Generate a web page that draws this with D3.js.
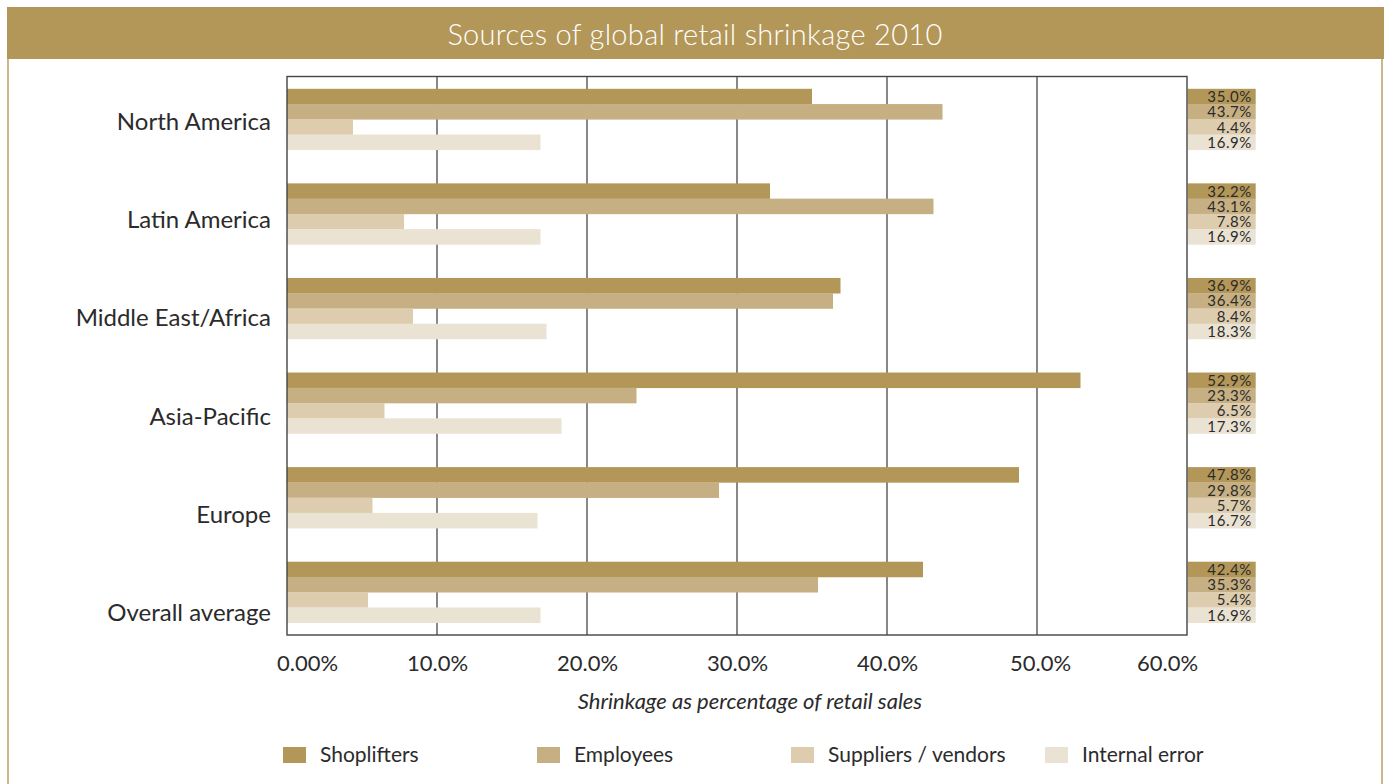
<!DOCTYPE html>
<html>
<head>
<meta charset="utf-8">
<script src="https://cdn.jsdelivr.net/npm/d3@7"></script>
<style>
  body { margin: 0; background: #fff; }
  svg { display: block; font-family: Lato, "Noto Sans", sans-serif; }
</style>
</head>
<body>
<svg id="chart" width="1384" height="784"></svg>
<script>
// data
const categories = ["North America", "Latin America", "Middle East/Africa", "Asia-Pacific", "Europe", "Overall average"];
const seriesNames = ["Shoplifters", "Employees", "Suppliers / vendors", "Internal error"];

// bar lengths as drawn
const shoplifters = [35.0, 32.2, 36.9, 52.9, 48.8, 42.4];
const employees = [43.7, 43.1, 36.4, 23.3, 28.8, 35.4];
const suppliers = [4.4, 7.8, 8.4, 6.5, 5.7, 5.4];
const internalError = [16.9, 16.9, 17.3, 18.3, 16.7, 16.9];

// printed values in the table on the right
const shopliftersLabels = ["35.0%", "32.2%", "36.9%", "52.9%", "47.8%", "42.4%"];
const employeesLabels = ["43.7%", "43.1%", "36.4%", "23.3%", "29.8%", "35.3%"];
const suppliersLabels = ["4.4%", "7.8%", "8.4%", "6.5%", "5.7%", "5.4%"];
const internalLabels = ["16.9%", "16.9%", "18.3%", "17.3%", "16.7%", "16.9%"];

const xTicks = [0, 10, 20, 30, 40, 50, 60];
const xTickLabels = ["0.00%", "10.0%", "20.0%", "30.0%", "40.0%", "50.0%", "60.0%"];

const colors = ["#b39758", "#c6af82", "#ddcdae", "#eae3d3"];

const svg = d3.select("#chart");

// frame + title band
svg.append("line").attr("x1", 8).attr("x2", 8).attr("y1", 58).attr("y2", 784)
    .attr("stroke", "#c9b88c").attr("stroke-width", 2);
svg.append("line").attr("x1", 1382).attr("x2", 1382).attr("y1", 58).attr("y2", 784)
    .attr("stroke", "#c9b88c").attr("stroke-width", 2);
svg.append("rect").attr("x", 7).attr("y", 7).attr("width", 1377).attr("height", 52)
    .attr("fill", "#b39758");
svg.append("text").attr("x", 695).attr("y", 45).attr("text-anchor", "middle")
    .attr("fill", "#fff").attr("font-size", 29).attr("font-weight", 300)
    .attr("letter-spacing", 0.3)
    .text("Sources of global retail shrinkage 2010");

// scales
const x = d3.scaleLinear().domain([0, 60]).range([287, 1187]);
const y = d3.scaleBand().domain(categories).range([76.5, 635])
    .paddingInner(0.355).paddingOuter(0.13);
const ySub = d3.scaleBand().domain(seriesNames).range([0, y.bandwidth()]);
// category labels sit on their own, slightly wider spacing
const yLabel = d3.scalePoint().domain(categories).range([122, 613]);

// grid lines
svg.append("g").selectAll("line")
    .data(xTicks.slice(1, -1))
    .join("line")
    .attr("x1", d => x(d)).attr("x2", d => x(d))
    .attr("y1", 76.5).attr("y2", 635)
    .attr("stroke", "#555").attr("stroke-width", 1.4);

// bars
const seriesValues = [shoplifters, employees, suppliers, internalError];
const seriesLabels = [shopliftersLabels, employeesLabels, suppliersLabels, internalLabels];

const groups = svg.append("g").selectAll("g")
    .data(categories)
    .join("g")
    .attr("transform", d => `translate(0,${y(d)})`);

groups.selectAll("rect")
    .data((c, i) => seriesNames.map((s, j) => ({ s, j, v: seriesValues[j][i] })))
    .join("rect")
    .attr("x", x(0))
    .attr("y", d => ySub(d.s))
    .attr("width", d => x(d.v) - x(0))
    .attr("height", ySub.bandwidth() + 0.3)
    .attr("fill", d => colors[d.j]);

// frame of plot area
svg.append("rect").attr("x", 287).attr("y", 76.5).attr("width", 900).attr("height", 558.5)
    .attr("fill", "none").attr("stroke", "#444").attr("stroke-width", 1.4);

// value table on the right
const cells = groups.selectAll("g.cell")
    .data((c, i) => seriesNames.map((s, j) => ({ s, j, label: seriesLabels[j][i] })))
    .join("g")
    .attr("class", "cell")
    .attr("transform", d => `translate(${x(60)},${ySub(d.s)})`);

cells.append("rect")
    .attr("x", 0.7).attr("width", 68).attr("height", ySub.bandwidth() + 0.3)
    .attr("fill", d => colors[d.j]);

cells.append("text")
    .attr("x", 65).attr("y", ySub.bandwidth() - 2)
    .attr("text-anchor", "end")
    .attr("font-size", 15).attr("fill", "#2b2b2b")
    .attr("letter-spacing", 0.6)
    .text(d => d.label);

// category labels
svg.append("g").selectAll("text")
    .data(categories)
    .join("text")
    .attr("x", 271)
    .attr("y", d => yLabel(d) + 8)
    .attr("text-anchor", "end")
    .attr("font-size", 24).attr("fill", "#2b2b2b")
    .text(d => d);

// x axis labels
const xAxis = d3.axisBottom(x)
    .tickValues(xTicks)
    .tickSize(0)
    .tickFormat((d, i) => xTickLabels[i]);

const axisG = svg.append("g")
    .attr("transform", "translate(0,635)")
    .call(xAxis);
axisG.select(".domain").remove();
axisG.selectAll("text")
    .attr("font-family", "Lato, 'Noto Sans', sans-serif")
    .attr("font-size", 22).attr("fill", "#2b2b2b")
    .attr("y", 20)
    .attr("dx", (d, i) => i === 0 ? 20 : (i === xTicks.length - 1 ? -20 : (i === 5 ? 3 : 0)));

svg.append("text")
    .attr("x", 750).attr("y", 709)
    .attr("text-anchor", "middle")
    .attr("font-size", 22).attr("font-style", "italic").attr("fill", "#2b2b2b")
    .text("Shrinkage as percentage of retail sales");

// legend
const legend = svg.append("g").selectAll("g")
    .data(seriesNames)
    .join("g")
    .attr("transform", (d, i) => `translate(${283 + i * 254},747)`);

legend.append("rect")
    .attr("width", 23).attr("height", 16)
    .attr("fill", (d, i) => colors[i]);

legend.append("text")
    .attr("x", 37).attr("y", 15)
    .attr("font-size", 21).attr("fill", "#2b2b2b")
    .text(d => d);
</script>
</body>
</html>
